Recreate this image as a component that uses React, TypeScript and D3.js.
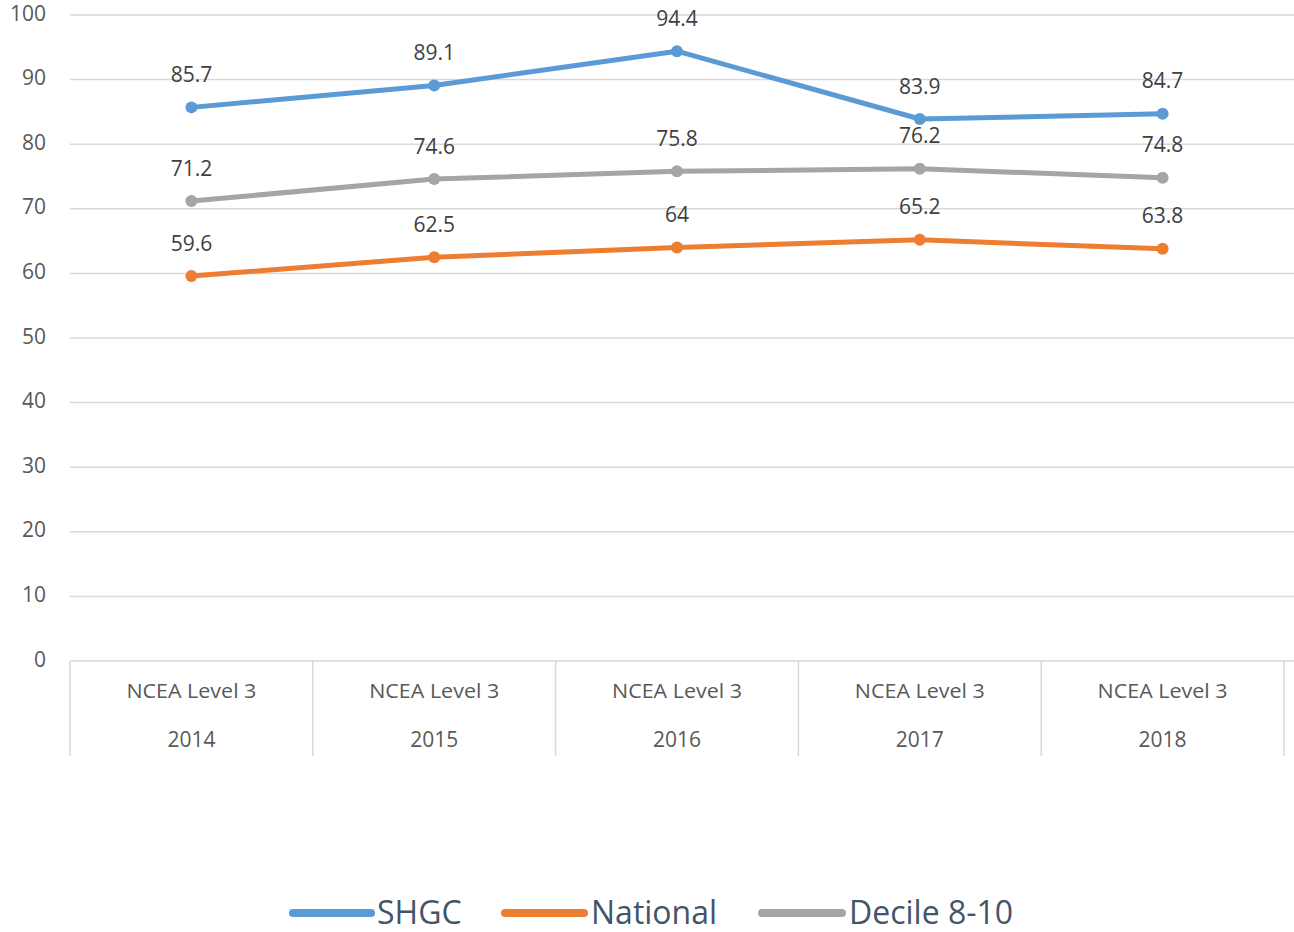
import React from "react";
import * as d3 from "d3";

const categories = ["2014", "2015", "2016", "2017", "2018"];
const categoryPrefix = "NCEA Level 3";
const shgc = [85.7, 89.1, 94.4, 83.9, 84.7];
const national = [59.6, 62.5, 64, 65.2, 63.8];
const decile = [71.2, 74.6, 75.8, 76.2, 74.8];
const yTicks = [0, 10, 20, 30, 40, 50, 60, 70, 80, 90, 100];

const seriesList = [
  { name: "SHGC", values: shgc, color: "#5B9BD5" },
  { name: "National", values: national, color: "#ED7D31" },
  { name: "Decile 8-10", values: decile, color: "#A5A5A5" },
];

export default function App() {
  const W = 1294, H = 932;
  const left = 70, right = 1284, top = 15, bottom = 661;
  const x = d3.scaleBand<string>().domain(categories).range([left, right]);
  const y = d3.scaleLinear().domain([0, 100]).range([bottom, top]);
  const cx = (c: string) => (x(c) as number) + x.bandwidth() / 2;
  const line = d3.line<number>().x((_, i) => cx(categories[i])).y((v) => y(v));
  const font = "'Open Sans', 'Liberation Sans', sans-serif";
  const legendItems = [
    { x1: 293, x2: 371, tx: 377 },
    { x1: 505, x2: 584, tx: 591 },
    { x1: 762, x2: 842, tx: 849 },
  ];
  return (
    <svg width={W} height={H} style={{ position: "absolute", left: 0, top: 0, background: "#fff" }} fontFamily={font}>
      {yTicks.map((t) => (
        <g key={t}>
          <line x1={left} x2={W} y1={y(t)} y2={y(t)} stroke="#D9D9D9" strokeWidth={1.5} />
          <text x={46} y={y(t)} textAnchor="end" dominantBaseline="middle" fontSize={21} fill="#595959">{t}</text>
        </g>
      ))}
      {[...categories.map((c) => x(c) as number), right].map((xx, i) => (
        <line key={i} x1={xx} x2={xx} y1={bottom} y2={756} stroke="#D9D9D9" strokeWidth={1.5} />
      ))}
      {categories.map((c) => (
        <g key={c}>
          <text x={cx(c)} y={693} textAnchor="middle" dominantBaseline="middle" fontSize={20} fill="#595959" textLength={130} lengthAdjust="spacingAndGlyphs">{categoryPrefix}</text>
          <text x={cx(c)} y={741} textAnchor="middle" dominantBaseline="middle" fontSize={21} fill="#595959">{c}</text>
        </g>
      ))}
      {seriesList.map((s) => (
        <g key={s.name}>
          <path d={line(s.values) || ""} fill="none" stroke={s.color} strokeWidth={5} strokeLinejoin="round" strokeLinecap="round" />
          {s.values.map((v, i) => (
            <circle key={i} cx={cx(categories[i])} cy={y(v)} r={6} fill={s.color} />
          ))}
          {s.values.map((v, i) => (
            <text key={"t" + i} x={cx(categories[i])} y={y(v) - 31} textAnchor="middle" dominantBaseline="middle" fontSize={21} fill="#404040">{String(v)}</text>
          ))}
        </g>
      ))}
      {seriesList.map((s, i) => (
        <g key={"lg" + i}>
          <line x1={legendItems[i].x1} x2={legendItems[i].x2} y1={913} y2={913} stroke={s.color} strokeWidth={8} strokeLinecap="round" />
          <text x={legendItems[i].tx} y={915} dominantBaseline="middle" fontSize={32} fill="#44546A">{s.name}</text>
        </g>
      ))}
    </svg>
  );
}
